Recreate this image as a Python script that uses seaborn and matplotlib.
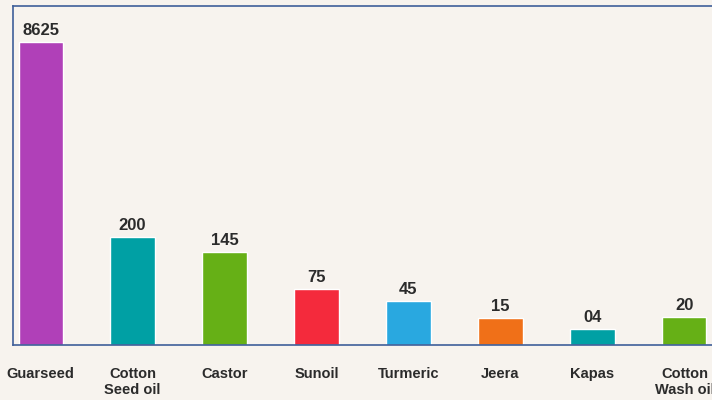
import pandas as pd
import matplotlib.pyplot as plt
import seaborn as sns

# Categories and values shown on the chart
categories = ["Guarseed", "Cotton\nSeed oil", "Castor", "Sunoil", "Turmeric",
              "Jeera", "Kapas", "Cotton\nWash oil"]
value_labels = ["8625", "200", "145", "75", "45", "15", "04", "20"]
# Bar heights as drawn in the original (scale is not proportional to values)
bar_heights = [303, 108, 93, 56, 44, 27, 16, 28]
bar_colors = ["#b040b8", "#00a0a4", "#66b016", "#f42a3c", "#29a8e0",
              "#f07018", "#00a0a4", "#66b016"]

bg = "#f7f3ee"
spine_col = "#3f5f99"
text_col = "#2b2b2b"

sns.set_theme(style="white")
plt.rcParams['font.family'] = ['Liberation Sans', 'DejaVu Sans']

df = pd.DataFrame({"category": categories, "height": bar_heights})

fig = plt.figure(figsize=(7.12, 4.0), dpi=100)
fig.patch.set_facecolor(bg)
ax = fig.add_axes([13 / 712, 55 / 400, 699 / 712, 339 / 400])
ax.set_facecolor(bg)

sns.barplot(data=df, x="category", y="height", hue="category",
            palette=bar_colors, width=0.48, legend=False, ax=ax,
            saturation=1)

# value labels above each bar
for cont, lab in zip(ax.containers, value_labels):
    ax.bar_label(cont, labels=[lab], padding=3, fontsize=12,
                 fontweight="bold", color=text_col)

ax.set_xlim(-0.3, 7.3)
ax.set_ylim(0, 339)
ax.set_yticks([])
ax.set_xlabel("")
ax.set_ylabel("")
ax.tick_params(axis="x", length=0, pad=16, labelsize=10.5, labelcolor=text_col)
for t in ax.get_xticklabels():
    t.set_fontweight("bold")
    t.set_verticalalignment("top")

for side in ["left", "top", "bottom"]:
    ax.spines[side].set_color(spine_col)
    ax.spines[side].set_linewidth(1.2)
ax.spines["right"].set_visible(False)

fig.savefig("out.png", dpi=100, facecolor=bg)
